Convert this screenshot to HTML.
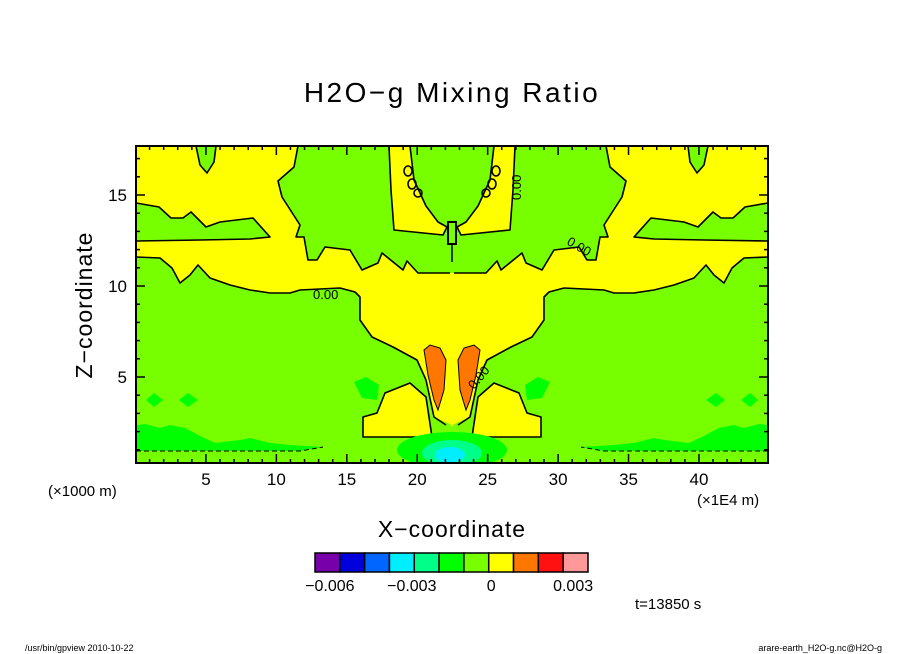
<!DOCTYPE html>
<html><head><meta charset="utf-8"><style>
html,body{margin:0;padding:0;background:#fff}
svg{display:block}
text{font-family:"Liberation Sans",sans-serif;fill:#000}
</style></head><body>
<svg id="chart" width="904" height="654" viewBox="0 0 904 654">
<defs><clipPath id="pc"><rect x="136" y="146" width="632" height="317"/></clipPath></defs>
<text x="452" y="102" font-size="28" text-anchor="middle" letter-spacing="2.5">H2O−g Mixing Ratio</text>
<g id="plot" clip-path="url(#pc)">
<rect x="136" y="146" width="632" height="317" fill="#77ff00"/>
<g id="half">
 <g stroke="none">
 <path fill="#ffff00" d="M136,146 L453,146 L453,427 L452,425 L434,417 L426,380 L417,360 L393,347 L372,337 L360,320 L360,297 L355,292 L340,288 L300,290 L290,293 L270,293 L250,290 L230,285 L210,278 L198,265 L190,275 L180,283 L172,268 L160,258 L136,257 Z"/>
 <path fill="#77ff00" d="M130,203 L159,207 L171,218 L183,218 L191,212 L206,227 L220,222 L253,218 L270,237 L250,239 L200,240 L130,241 Z"/>
 <path fill="#77ff00" d="M298,140 L453,140 L453,273 L418,273 L407,261 L403,270 L382,253 L378,263 L362,270 L350,250 L325,247 L317,260 L308,260 L304,237 L296,237 L300,225 L282,197 L278,181 L294,167 Z"/>
 <path fill="#ffff00" d="M389,140 L410,140 L414,180 L426,206 L438,222 L447,227 L443,235 L394,230 L391,190 Z"/>
 <path fill="#77ff00" d="M196,140 L216,140 L214,162 L207,173 L200,165 Z"/>
 <path fill="#ffff00" d="M363,437 L363,417 L377,413 L385,393 L410,383 L426,397 L432,437 Z"/>
 <path fill="#00ff00" d="M130,426 L145,424 L160,428 L170,425 L185,428 L200,436 L215,443 L240,440 L250,438 L270,443 L290,445 L323,447 L300,451 L130,451 Z"/>
 <path fill="#00ff00" d="M146,400 L154,393 L163,400 L154,407 Z M179,400 L188,393 L198,400 L188,407 Z M354,382 L366,377 L379,385 L377,400 L362,398 Z"/>
 </g>
 <g fill="none" stroke="#000" stroke-width="1.6" stroke-linejoin="round">
 <path d="M136,257 L160,258 L172,268 L180,283 L190,275 L198,265 L210,278 L230,285 L250,290 L270,293 L290,293 L300,290 L340,288 L355,292 L360,297 L360,320 L372,337 L393,347 L417,360 L426,380 L434,417 L446,425"/>
 <path d="M136,203 L159,207 L171,218 L183,218 L191,212 L206,227 L220,222 L253,218 L270,237 L250,239 L200,240 L136,241"/>
 <path d="M298,146 L294,167 L278,181 L282,197 L300,225 L296,237 L304,237 L308,260 L317,260 L325,247 L350,250 L362,270 L378,263 L382,253 L403,270 L407,261 L418,273 L450,273"/>
 <path d="M389,146 L391,190 L394,230 L443,235 L447,227 L438,222 L426,206 L414,180 L410,146"/>
 <path d="M196,146 L200,165 L207,173 L214,162 L216,146"/>
 <path d="M363,437 L363,417 L377,413 L385,393 L410,383 L426,397 L432,437 Z"/>
 <path stroke-dasharray="5,3" stroke-width="1" d="M136,451 L300,451 L323,447"/>
 <ellipse cx="408" cy="171" rx="4" ry="5"/>
 <ellipse cx="412" cy="184" rx="4" ry="5"/>
 <ellipse cx="418" cy="193" rx="4" ry="4"/>
 </g>
 <path fill="#ff7700" stroke="#000" stroke-width="1" d="M424,350 L430,345 L440,348 L446,360 L444,390 L438,410 L434,400 L428,375 Z"/>
</g>
<use href="#half" transform="translate(904,0) scale(-1,1)"/>
<ellipse cx="452" cy="450" rx="55" ry="18" fill="#00ff00"/>
<ellipse cx="452" cy="453" rx="30" ry="13" fill="#00ff88"/>
<ellipse cx="450" cy="455" rx="15" ry="8" fill="#00eeff"/>
<rect x="448" y="222" width="8" height="22" fill="none" stroke="#000" stroke-width="2"/>
<line x1="452" y1="244" x2="452" y2="262" stroke="#000" stroke-width="1.5"/>
<text x="313" y="299" font-size="13">0.00</text>
<text x="0" y="0" font-size="13" transform="translate(521,200) rotate(-90)">0.00</text>
<text x="0" y="0" font-size="13" transform="translate(566,244) rotate(30)">0.00</text>
<text x="0" y="0" font-size="13" transform="translate(474,390) rotate(-50)">0.00</text>
</g>
<rect x="136" y="146" width="632" height="317" fill="none" stroke="#000" stroke-width="2"/>
<g id="axes"></g>
<text x="48" y="496" font-size="15">(×1000 m)</text>
<text x="697" y="505" font-size="15">(×1E4 m)</text>
<text x="452" y="537" font-size="23" text-anchor="middle" letter-spacing="1">X−coordinate</text>
<text x="0" y="0" font-size="23" text-anchor="middle" letter-spacing="1" transform="translate(92,305) rotate(-90)">Z−coordinate</text>
<g id="cbar"></g>
<text x="635" y="609" font-size="15">t=13850 s</text>
<text x="25" y="651" font-size="9">/usr/bin/gpview  2010-10-22</text>
<text x="882" y="651" font-size="9" text-anchor="end">arare-earth_H2O-g.nc@H2O-g</text>
</svg>
<script>
const xTicks=[5,10,15,20,25,30,35,40];
const yTicks=[5,10,15];
const cbColors=["#7700aa","#0000dd","#0066ff","#00eeff","#00ff88","#00ff00","#77ff00","#ffff00","#ff7700","#ff1111","#ff9999"];
const cbLabels=["−0.006","−0.003","0","0.003"];
const cbLabelIdx=[0.6,3.9,7.1,10.4];
const NS="http://www.w3.org/2000/svg";
const xs=v=>135.5+v*(768-135.5)/44.9;
const ys=v=>468-v*18.2;
const ax=document.getElementById('axes');
function ln(x1,y1,x2,y2,w){const l=document.createElementNS(NS,'line');l.setAttribute('x1',x1);l.setAttribute('y1',y1);l.setAttribute('x2',x2);l.setAttribute('y2',y2);l.setAttribute('stroke','#000');l.setAttribute('stroke-width',w||1.5);ax.appendChild(l);return l;}
for(let v=1;v<=44;v++){const x=xs(v);const L=v%5===0?9:4;
 const t=ln(x,463,x,463-L);
 
 
 const t2=ln(x,146,x,146+L);
 
 }
for(let v=1;v<=17;v++){const y=ys(v);const L=v%5===0?9:4;
 const t=ln(136,y,136+L,y);
 
 
 const t2=ln(768,y,768-L,y);
 
 }
xTicks.forEach(v=>{const t=document.createElementNS(NS,'text');t.setAttribute('x',xs(v));t.setAttribute('y',485);t.setAttribute('font-size','17');t.setAttribute('text-anchor','middle');t.textContent=v;
 
 ax.appendChild(t);});
yTicks.forEach(v=>{const t=document.createElementNS(NS,'text');t.setAttribute('x',127);t.setAttribute('y',ys(v)+6);t.setAttribute('font-size','17');t.setAttribute('text-anchor','end');t.textContent=v;
 
 ax.appendChild(t);});
const cb=document.getElementById('cbar');const cx0=315,cw=(588-315)/cbColors.length;
cbColors.forEach((c,i)=>{const r=document.createElementNS(NS,'rect');r.setAttribute('x',cx0+i*cw);r.setAttribute('y',553);r.setAttribute('width',cw);r.setAttribute('height',19);r.setAttribute('fill',c);r.setAttribute('stroke','#000');r.setAttribute('stroke-width','1.5');
 
 cb.appendChild(r);});
cbLabels.forEach((s,i)=>{const t=document.createElementNS(NS,'text');t.setAttribute('x',cx0+cbLabelIdx[i]*cw);t.setAttribute('y',591);t.setAttribute('font-size','16');t.setAttribute('text-anchor','middle');t.textContent=s;
 
 cb.appendChild(t);});
</script>
</body></html>
